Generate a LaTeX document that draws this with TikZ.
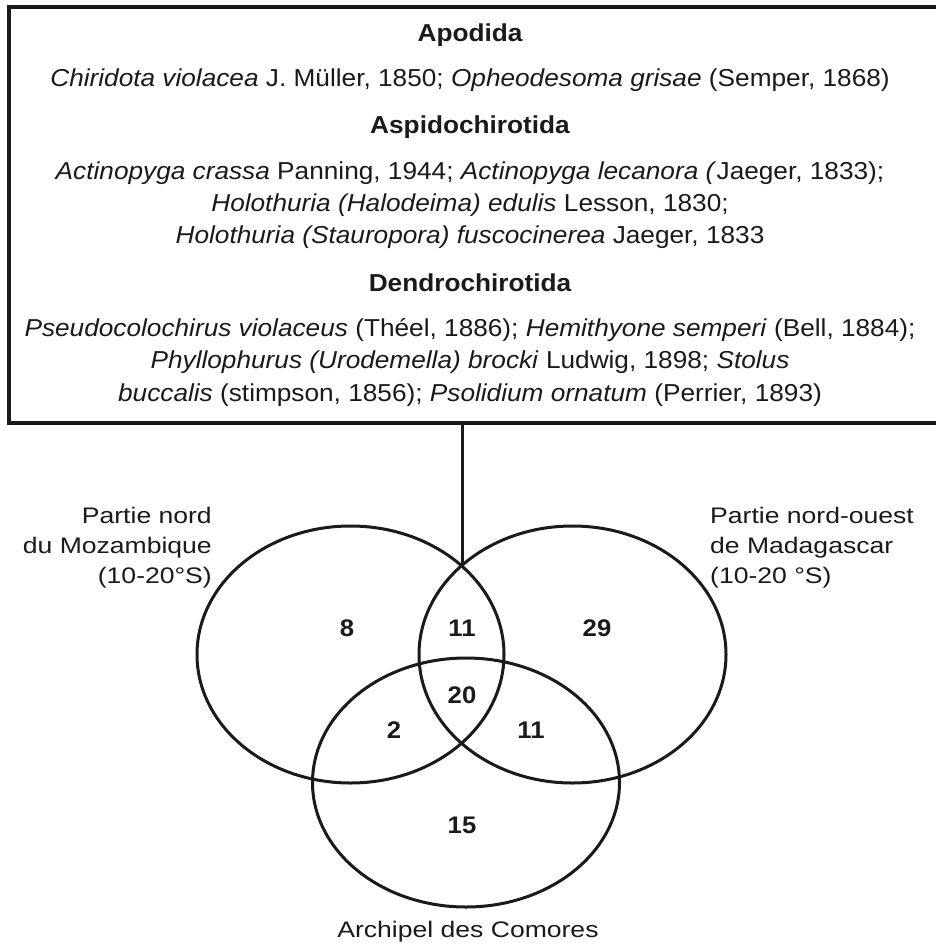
\documentclass[tikz,border=0pt]{standalone}
\usepackage{fontspec}
\setmainfont{Liberation Sans}[FakeStretch=1.07]
\newfontfamily\labfont{Liberation Sans}[FakeStretch=1.18]
\definecolor{ink}{HTML}{1A1A1A}
\begin{document}
\begin{tikzpicture}[x=1pt,y=-1pt,
  txt/.style={text=ink,inner sep=0pt,font=\fontsize{24.5}{30}\selectfont},
  head/.style={txt,font=\fontsize{24.5}{30}\selectfont\bfseries},
  lab/.style={text=ink,inner sep=0pt,font=\labfont\fontsize{22.5}{30}\selectfont},
  num/.style={text=ink,inner sep=0pt,font=\fontsize{24}{28}\selectfont\bfseries},
  ring/.style={draw=ink,line width=3pt}]
\useasboundingbox (0,0) rectangle (935,947);
\fill[white] (0,0) rectangle (935,947);
% box
\draw[draw=ink,line width=3.4pt] (9,7) rectangle (945,423);
\node[head] (h1) at (470,35) {Apodida};
\node[txt] (l1) at (470,80) {\textit{Chiridota violacea} J. Müller, 1850; \textit{Opheodesoma grisae} (Semper, 1868)};
\node[head] (h2) at (470,127) {Aspidochirotida};
\node[txt] (l2) at (470,173) {\textit{Actinopyga crassa} Panning, 1944; \textit{Actinopyga lecanora (}Jaeger, 1833);};
\node[txt] (l3) at (470,205) {\textit{Holothuria (Halodeima) edulis} Lesson, 1830;};
\node[txt] (l4) at (470,237) {\textit{Holothuria (Stauropora) fuscocinerea} Jaeger, 1833};
\node[head] (h3) at (470,283) {Dendrochirotida};
\node[txt] (l5) at (470,330) {\textit{Pseudocolochirus violaceus} (Théel, 1886); \textit{Hemithyone semperi} (Bell, 1884);};
\node[txt] (l6) at (470,362) {\textit{Phyllophurus (Urodemella) brocki} Ludwig, 1898; \textit{Stolus}};
\node[txt] (l7) at (470,395) {\textit{buccalis} (stimpson, 1856); \textit{Psolidium ornatum} (Perrier, 1893)};
% connector
\coordinate (boxbot) at (462,423);
\coordinate (junction) at (462,568);
\draw[draw=ink,line width=3pt] (boxbot) -- (junction);
% circles
\draw[ring] (350.5,654.5) ellipse [x radius=153.5,y radius=128.5];
\draw[ring] (572.5,654.5) ellipse [x radius=153.5,y radius=128.5];
\draw[ring] (466,782.5) ellipse [x radius=153.5,y radius=124.5];
% numbers
\node[num] (n8) at (347,628) {8};
\node[num] (n11a) at (462,628) {11};
\node[num] (n29) at (597,628) {29};
\node[num] (n20) at (462,695) {20};
\node[num] (n2) at (394,730) {2};
\node[num] (n11b) at (531,730) {11};
\node[num] (n15) at (462,825) {15};
% labels
\node[lab,align=right,anchor=east] (moz) at (212,548) {Partie nord\\du Mozambique\\(10-20°S)};
\node[lab,align=left,anchor=west] (mad) at (710,548) {Partie nord-ouest\\de Madagascar\\(10-20 °S)};
\node[lab] (com) at (468,932) {Archipel des Comores};
\end{tikzpicture}
\end{document}
